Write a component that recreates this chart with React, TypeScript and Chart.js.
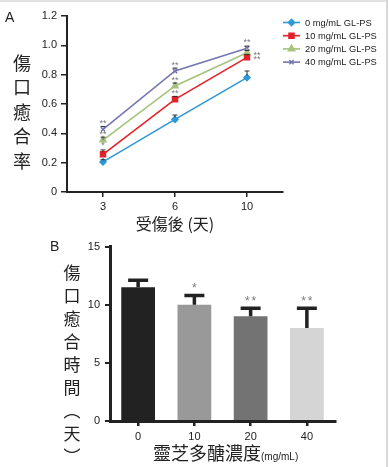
import React, { useEffect, useRef } from 'react';
import { Chart, registerables } from 'chart.js';
import { drawPoint } from 'chart.js/helpers';

Chart.register(...registerables);

// ---------- Panel A data ----------
const dayLabels = ['3', '6', '10'];
const seriesNames = ['0 mg/mL GL-PS', '10 mg/mL GL-PS', '20 mg/mL GL-PS', '40 mg/mL GL-PS'];
const rate0 = [0.205, 0.495, 0.78];
const rate10 = [0.257, 0.632, 0.918];
const rate20 = [0.354, 0.723, 0.95];
const rate40 = [0.427, 0.825, 0.98];
const err0 = [0.015, 0.03, 0.045];
const err10 = [0.03, 0.02, 0.02];
const err20 = [0.02, 0.02, 0.015];
const err40 = [0.02, 0.02, 0.015];
const sig0 = ['', '', ''];
const sig10 = ['**', '**', '**'];
const sig20 = ['**', '**', '**'];
const sig40 = ['**', '**', '**'];

// ---------- Panel B data ----------
const doseLabels = ['0', '10', '20', '40'];
const healDays = [11.5, 10.0, 9.0, 8.0];
const healErr = [0.6, 0.8, 0.7, 1.7];
const healSig = ['', '*', '**', '**'];

const seriesValues = [rate0, rate10, rate20, rate40];
const seriesErr = [err0, err10, err20, err40];
const seriesSig = [sig0, sig10, sig20, sig40];

const lineColors = ['#2f98d6', '#e42229', '#a6c27c', '#7576b0'];
const pointStyles = ['rectRot', 'rect', 'triangle', 'crossRot'];
const pointRadii = [3, 3.5, 3.5, 3];
const barColors = ['#222222', '#999999', '#737373', '#d5d5d5'];

const TICK_FONT = { family: '"Liberation Sans", Arial, sans-serif', size: 11 };
const CJK = '"Noto Sans CJK TC", "Noto Sans CJK SC", sans-serif';

const panelAPlugin = {
  id: 'panelAExtras',
  afterDatasetsDraw(chart: any) {
    const ctx = chart.ctx;
    const ys = chart.scales.y;
    ctx.save();
    chart.data.datasets.forEach((ds: any, di: number) => {
      const meta = chart.getDatasetMeta(di);
      meta.data.forEach((pt: any, i: number) => {
        const top = ys.getPixelForValue(ds.data[i] + seriesErr[di][i]);
        ctx.strokeStyle = '#333';
        ctx.lineWidth = 1;
        ctx.beginPath();
        ctx.moveTo(pt.x, pt.y - 2);
        ctx.lineTo(pt.x, top);
        ctx.moveTo(pt.x - 2.5, top);
        ctx.lineTo(pt.x + 2.5, top);
        ctx.stroke();
      });
    });
    ctx.fillStyle = '#7a7a7a';
    ctx.font = '9px "Liberation Sans", Arial, sans-serif';
    ctx.textAlign = 'center';
    ctx.textBaseline = 'alphabetic';
    chart.data.datasets.forEach((ds: any, di: number) => {
      const meta = chart.getDatasetMeta(di);
      meta.data.forEach((pt: any, i: number) => {
        const s = seriesSig[di][i];
        if (!s) return;
        if (i === 2 && (di === 1 || di === 2)) {
          ctx.fillText(s, pt.x + 10, pt.y + 5);
        } else if (i === 0 && di === 1) {
          ctx.fillText('*', pt.x, pt.y - 11 + 5);
          ctx.fillText('*', pt.x, pt.y - 16 + 5);
        } else {
          ctx.fillText(s, pt.x, pt.y - 8 + 5);
        }
      });
    });
    ctx.restore();
  },
  afterDraw(chart: any) {
    const ctx = chart.ctx;
    ctx.save();
    chart.data.datasets.forEach((ds: any, di: number) => {
      const y = 22.5 + di * 13.2;
      ctx.strokeStyle = lineColors[di];
      ctx.fillStyle = lineColors[di];
      ctx.lineWidth = 1.6;
      ctx.beginPath();
      ctx.moveTo(283, y);
      ctx.lineTo(300, y);
      ctx.stroke();
      drawPoint(ctx, { pointStyle: pointStyles[di], radius: pointRadii[di], rotation: 0, borderWidth: 1.5 } as any, 291.5, y);
      ctx.fillStyle = '#222';
      ctx.font = '9.3px "Liberation Sans", Arial, sans-serif';
      ctx.textAlign = 'left';
      ctx.textBaseline = 'middle';
      ctx.fillText(ds.label, 305, y + 0.5);
    });
    ctx.restore();
  },
};

const panelBPlugin = {
  id: 'panelBExtras',
  afterDatasetsDraw(chart: any) {
    const ctx = chart.ctx;
    const ys = chart.scales.y;
    const meta = chart.getDatasetMeta(0);
    ctx.save();
    meta.data.forEach((bar: any, i: number) => {
      const top = ys.getPixelForValue(healDays[i] + healErr[i]);
      ctx.strokeStyle = '#222';
      ctx.lineWidth = 3.5;
      ctx.beginPath();
      ctx.moveTo(bar.x, bar.y);
      ctx.lineTo(bar.x, top);
      ctx.moveTo(bar.x - 10, top);
      ctx.lineTo(bar.x + 10, top);
      ctx.stroke();
      const s = healSig[i];
      if (s) {
        ctx.fillStyle = '#7a7a7a';
        ctx.font = '12px "Liberation Sans", Arial, sans-serif';
        ctx.textAlign = 'center';
        ctx.textBaseline = 'alphabetic';
        const n = s.length;
        for (let k = 0; k < n; k++) {
          const cx = bar.x + (k - (n - 1) / 2) * 6.5;
          ctx.fillText('*', cx, top - 10 + 7);
        }
      }
    });
    ctx.restore();
  },
};

export default function App() {
  const refA = useRef<HTMLCanvasElement>(null);
  const refB = useRef<HTMLCanvasElement>(null);

  useEffect(() => {
    const chartA = new Chart(refA.current as HTMLCanvasElement, {
      type: 'line',
      data: {
        labels: dayLabels,
        datasets: seriesValues.map((vals, i) => ({
          label: seriesNames[i],
          data: vals,
          borderColor: lineColors[i],
          backgroundColor: lineColors[i],
          borderWidth: 1.6,
          pointStyle: pointStyles[i] as any,
          pointRadius: pointRadii[i],
          pointBorderWidth: 1.5,
          pointBackgroundColor: lineColors[i],
          pointBorderColor: lineColors[i],
          tension: 0,
        })),
      },
      options: {
        responsive: false,
        animation: false,
        devicePixelRatio: 1,
        layout: { padding: { left: 0, top: 16, right: 106, bottom: 0 } },
        plugins: { legend: { display: false }, tooltip: { enabled: false } },
        scales: {
          x: {
            type: 'category',
            offset: true,
            afterFit: (s: any) => { s.height = 43; },
            grid: { drawOnChartArea: false, offset: false, tickLength: 5, color: '#222', lineWidth: 1.5 },
            border: { color: '#222', width: 2 },
            ticks: { color: '#222', font: TICK_FONT, padding: 3 },
          },
          y: {
            min: 0,
            max: 1.2,
            afterFit: (s: any) => { s.width = 67; },
            grid: { drawOnChartArea: false, tickLength: 6, color: '#222', lineWidth: 1.5 },
            border: { color: '#222', width: 2 },
            ticks: {
              stepSize: 0.2,
              color: '#222',
              font: TICK_FONT,
              padding: 4,
              callback: (v: any) => (Number(v) === 0 ? '0' : Number(v).toFixed(1)),
            },
          },
        },
      },
      plugins: [panelAPlugin],
    });

    const chartB = new Chart(refB.current as HTMLCanvasElement, {
      type: 'bar',
      data: {
        labels: doseLabels,
        datasets: [
          {
            data: healDays,
            backgroundColor: barColors,
            borderWidth: 0,
            categoryPercentage: 1,
            barPercentage: 0.6,
          },
        ],
      },
      options: {
        responsive: false,
        animation: false,
        devicePixelRatio: 1,
        layout: { padding: { left: 0, top: 10, right: 54, bottom: 0 } },
        plugins: { legend: { display: false }, tooltip: { enabled: false } },
        scales: {
          x: {
            afterFit: (s: any) => { s.height = 46; },
            grid: { drawOnChartArea: false, offset: false, tickLength: 5, color: '#222', lineWidth: 2.5 },
            border: { color: '#222', width: 3 },
            ticks: { color: '#222', font: TICK_FONT, padding: 4 },
          },
          y: {
            min: 0,
            max: 15,
            afterFit: (s: any) => { s.width = 110; },
            grid: { drawOnChartArea: false, tickLength: 5, color: '#222', lineWidth: 2 },
            border: { color: '#222', width: 3 },
            ticks: { stepSize: 5, color: '#222', font: TICK_FONT, padding: 5 },
          },
        },
      },
      plugins: [panelBPlugin],
    });

    return () => {
      chartA.destroy();
      chartB.destroy();
    };
  }, []);

  const abs = (s: React.CSSProperties): React.CSSProperties => ({ position: 'absolute', margin: 0, ...s });

  return (
    <div style={abs({ left: 0, top: 0, width: 389, height: 467, background: '#fff', overflow: 'hidden' })}>
      <div style={abs({ left: 0, top: 0, width: 387, height: 2, background: '#e2e2e2' })} />
      <div style={abs({ left: 386, top: 0, width: 2, height: 467, background: '#d8d8d8' })} />
      <canvas ref={refA} width={389} height={235} style={abs({ left: 0, top: 0, width: 389, height: 235 })} />
      <canvas ref={refB} width={389} height={232} style={abs({ left: 0, top: 235, width: 389, height: 232 })} />

      <div style={abs({ left: 5, top: 10, fontFamily: '"Liberation Sans", Arial, sans-serif', fontSize: 14, lineHeight: '15px', color: '#222' })}>A</div>
      <div style={abs({ left: 50, top: 239, fontFamily: '"Liberation Sans", Arial, sans-serif', fontSize: 14, lineHeight: '15px', color: '#222' })}>B</div>

      <div style={abs({ left: 7, top: 49.75, width: 30, textAlign: 'center', fontFamily: CJK, fontSize: 18, lineHeight: '24.5px', color: '#222' })}>
        {'傷口癒合率'.split('').map((c, i) => (<div key={i}>{c}</div>))}
      </div>

      <div style={abs({ left: 75, top: 213, width: 200, textAlign: 'center', fontFamily: CJK, fontSize: 16, lineHeight: '20px', color: '#222', whiteSpace: 'nowrap' })}>
        受傷後 (天)
      </div>

      <div style={abs({ left: 57, top: 259.5, width: 30, textAlign: 'center', fontFamily: CJK, fontSize: 17, lineHeight: '23px', color: '#222' })}>
        {'傷口癒合時間︵天︶'.split('').map((c, i) => (<div key={i}>{c}</div>))}
      </div>

      <div style={abs({ left: 153, top: 441, fontFamily: CJK, fontSize: 18, lineHeight: '22px', color: '#222', whiteSpace: 'nowrap' })}>
        靈芝多醣濃度<span style={{ fontFamily: '"Liberation Sans", Arial, sans-serif', fontSize: 10 }}>(mg/mL)</span>
      </div>
    </div>
  );
}
